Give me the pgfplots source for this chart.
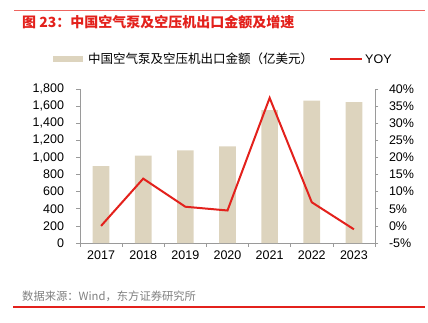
\documentclass[border=0pt]{standalone}
\usepackage{pgfplots}
\pgfplotsset{compat=1.18}
\usepackage{fontspec}
\setmainfont{Liberation Sans}
\newfontfamily\cjk{Noto Sans CJK SC}
\definecolor{barc}{HTML}{DDD4BE}
\definecolor{redc}{HTML}{E3211C}
\definecolor{toprule}{HTML}{EE6560}
\definecolor{axc}{HTML}{9A9A9A}
\begin{document}
\begin{tikzpicture}[x=1pt,y=1pt]
\path[use as bounding box] (0,0) rectangle (428,322);
\draw[toprule, line width=1.6pt] (14,311.3) -- (425,311.3);
\draw[redc, line width=1.6pt] (13,15.3) -- (425,15.3);
\node[anchor=west, text=redc, font=\fontsize{14}{14}\selectfont\cjk\bfseries, inner sep=0pt] at (22,300) {图 23：中国空气泵及空压机出口金额及增速};
% legend
\fill[barc] (53,260.2) rectangle (83,265.8);
\node[anchor=west, font=\fontsize{12.5}{12.5}\selectfont\cjk, inner sep=0pt] at (88,263) {中国空气泵及空压机出口金额（亿美元）};
\draw[redc, line width=2pt] (330,263) -- (362,263);
\node[anchor=west, font=\fontsize{12.5}{12.5}\selectfont, inner sep=0pt] at (365,263) {YOY};
% source
\node[anchor=west, text=gray, font=\fontsize{11.3}{11.3}\selectfont\cjk, inner sep=0pt] at (22,25.5) {数据来源：Wind，东方证券研究所};

\begin{axis}[
  at={(80pt,79pt)}, anchor=south west,
  scale only axis, width=295pt, height=154pt,
  xmin=-0.5, xmax=6.5, ymin=0, ymax=1800,
  axis x line*=bottom, axis y line*=left,
  axis line style={draw=axc, line width=0.6pt},
  tick style={draw=axc, line width=0.6pt},
  tick align=outside, major tick length=3.5pt,
  xtick={-0.5,0.5,...,6.5}, xticklabels={},
  extra x ticks={0,1,2,3,4,5,6},
  extra x tick labels={2017,2018,2019,2020,2021,2022,2023},
  extra x tick style={major tick length=0pt, tick style={draw=none}},
  ytick={0,200,...,1800},
  /pgf/number format/assume math mode=true,
  /pgf/number format/1000 sep={,},
  ticklabel style={font=\fontsize{12.5}{12.5}\selectfont},
  yticklabel style={xshift=-9pt},
  xticklabel style={yshift=-4pt},
  ybar, bar width=16.7pt,
]
\addplot[fill=barc, draw=none] coordinates {(0,900) (1,1020) (2,1083) (3,1130) (4,1554) (5,1663) (6,1647)};
\end{axis}

\begin{axis}[
  at={(80pt,79pt)}, anchor=south west,
  scale only axis, width=295pt, height=154pt,
  xmin=-0.5, xmax=6.5, ymin=-5, ymax=40,
  axis x line=none, axis y line*=right,
  axis line style={draw=axc, line width=0.6pt},
  tick style={draw=axc, line width=0.6pt},
  tick align=outside, major tick length=3.5pt,
  ytick={-5,0,...,40},
  /pgf/number format/assume math mode=true,
  yticklabel={\pgfmathprintnumber{\tick}\%},
  ticklabel style={font=\fontsize{12.5}{12.5}\selectfont},
  yticklabel style={xshift=7pt},
]
\addplot[redc, line width=2pt, mark=none] coordinates {(0,0.0) (1,13.8) (2,5.6) (3,4.5) (4,37.4) (5,6.9) (6,-1.0)};
\end{axis}
\end{tikzpicture}
\end{document}
